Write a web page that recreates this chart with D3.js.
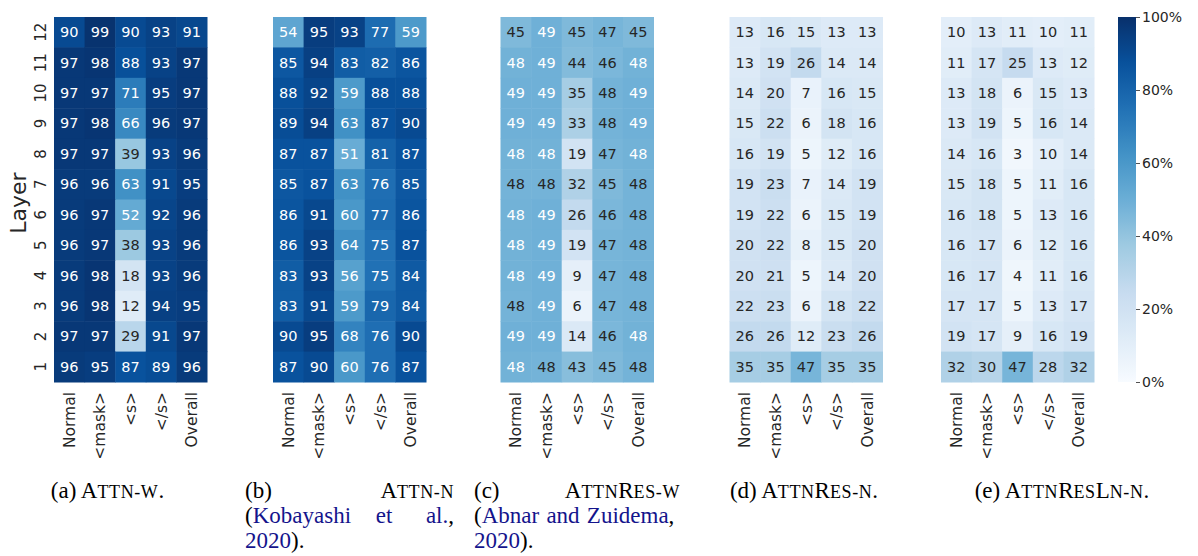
<!DOCTYPE html>
<html>
<head>
<meta charset="utf-8">
<script src="https://cdn.jsdelivr.net/npm/d3@7"></script>
<style>
  html, body { margin: 0; padding: 0; background: #fff; }
  svg { display: block; }
</style>
</head>
<body>
<svg id="chart" width="1198" height="556"></svg>
<script>
// ---------------- DATA ----------------
const categories = ["Normal", "<mask>", "<s>", "</s>", "Overall"];
const layers = [12, 11, 10, 9, 8, 7, 6, 5, 4, 3, 2, 1]; // top to bottom
const colorbarTicks = [0, 20, 40, 60, 80, 100];

const attnW = [
  [90, 99, 90, 93, 91],
  [97, 98, 88, 93, 97],
  [97, 97, 71, 95, 97],
  [97, 98, 66, 96, 97],
  [97, 97, 39, 93, 96],
  [96, 96, 63, 91, 95],
  [96, 97, 52, 92, 96],
  [96, 97, 38, 93, 96],
  [96, 98, 18, 93, 96],
  [96, 98, 12, 94, 95],
  [97, 97, 29, 91, 97],
  [96, 95, 87, 89, 96]
];
const attnN = [
  [54, 95, 93, 77, 59],
  [85, 94, 83, 82, 86],
  [88, 92, 59, 88, 88],
  [89, 94, 63, 87, 90],
  [87, 87, 51, 81, 87],
  [85, 87, 63, 76, 85],
  [86, 91, 60, 77, 86],
  [86, 93, 64, 75, 87],
  [83, 93, 56, 75, 84],
  [83, 91, 59, 79, 84],
  [90, 95, 68, 76, 90],
  [87, 90, 60, 76, 87]
];
const attnResW = [
  [45, 49, 45, 47, 45],
  [48.3, 49, 44, 46, 48.3],
  [49, 49, 35, 47.7, 49],
  [49, 49, 33, 47.7, 49],
  [48.3, 48.3, 19, 47, 48.3],
  [47.7, 47.7, 32, 45, 47.7],
  [48.3, 49, 26, 46, 47.7],
  [48.3, 49, 19, 47, 47.7],
  [48.3, 49, 9, 47, 47.7],
  [47.7, 49, 6, 47, 47.7],
  [49, 49, 14, 46, 48.3],
  [48.3, 47.7, 43, 45, 47.7]
];
const attnResN = [
  [13, 16, 15, 13, 13],
  [13, 19, 26, 14, 14],
  [14, 20, 7, 16, 15],
  [15, 22, 6, 18, 16],
  [16, 19, 5, 12, 16],
  [19, 23, 7, 14, 19],
  [19, 22, 6, 15, 19],
  [20, 22, 8, 15, 20],
  [20, 21, 5, 14, 20],
  [22, 23, 6, 18, 22],
  [26, 26, 12, 23, 26],
  [35, 35, 47, 35, 35]
];
const attnResLnN = [
  [10, 13, 11, 10, 11],
  [11, 17, 25, 13, 12],
  [13, 18, 6, 15, 13],
  [13, 19, 5, 16, 14],
  [14, 16, 3, 10, 14],
  [15, 18, 5, 11, 16],
  [16, 18, 5, 13, 16],
  [16, 17, 6, 12, 16],
  [16, 17, 4, 11, 16],
  [17, 17, 5, 13, 17],
  [19, 17, 9, 16, 19],
  [32, 30, 47, 28, 32]
];
const panels = [attnW, attnN, attnResW, attnResN, attnResLnN];

// ---------------- LAYOUT ----------------
const svg = d3.select("#chart");
const topY = 17, bottomY = 382, hmW = 153;
const lefts = [54, 273, 500.5, 729.5, 941];
const textDark = "#262626";
const sansFont = "'DejaVu Sans', sans-serif";
const serifFont = "'Liberation Serif', 'Times New Roman', serif";

// matplotlib "Blues" (linear through ColorBrewer 9 stops)
const bluesStops = ["#f7fbff", "#deebf7", "#c6dbef", "#9ecae1", "#6baed6", "#4292c6", "#2171b5", "#08519c", "#08306b"];
const color = d3.scaleLinear()
  .domain(d3.range(9).map(i => i * 100 / 8))
  .range(bluesStops)
  .interpolate(d3.interpolateRgb)
  .clamp(true);

const y = d3.scaleBand().domain(layers).range([topY, bottomY]).padding(0);

panels.forEach((data, p) => {
  const x = d3.scaleBand().domain(categories).range([lefts[p], lefts[p] + hmW]).padding(0);
  const g = svg.append("g");
  const cells = [];
  data.forEach((row, ri) => row.forEach((v, ci) => cells.push({layer: layers[ri], cat: categories[ci], v})));

  g.selectAll("rect").data(cells).join("rect")
    .attr("x", d => x(d.cat))
    .attr("y", d => y(d.layer))
    .attr("width", x.bandwidth() + 0.5)
    .attr("height", y.bandwidth() + 0.5)
    .attr("fill", d => color(d.v));

  g.selectAll("text.val").data(cells).join("text")
    .attr("class", "val")
    .attr("x", d => x(d.cat) + x.bandwidth() / 2)
    .attr("y", d => y(d.layer) + y.bandwidth() / 2)
    .attr("text-anchor", "middle")
    .attr("dominant-baseline", "central")
    .attr("font-family", sansFont)
    .attr("font-size", 14.5)
    .attr("fill", d => d.v >= 48 ? "#ffffff" : textDark)
    .text(d => Math.round(d.v));

  // x tick labels (rotated)
  g.selectAll("text.xt").data(categories).join("text")
    .attr("class", "xt")
    .attr("transform", d => `translate(${x(d) + x.bandwidth() / 2 + 5.5},${bottomY + 10}) rotate(-90)`)
    .attr("text-anchor", "end")
    .attr("font-family", sansFont)
    .attr("font-size", 15.5)
    .attr("fill", textDark)
    .text(d => d);
});

// y tick labels for first panel
svg.append("g").selectAll("text").data(layers).join("text")
  .attr("transform", d => `translate(46,${y(d) + y.bandwidth() / 2}) rotate(-90)`)
  .attr("text-anchor", "middle")
  .attr("font-family", sansFont)
  .attr("font-size", 15)
  .attr("fill", textDark)
  .text(d => d);

svg.append("text")
  .attr("transform", `translate(26,203) rotate(-90)`)
  .attr("text-anchor", "middle")
  .attr("font-family", sansFont)
  .attr("font-size", 22)
  .attr("fill", textDark)
  .text("Layer");

// ---------------- COLORBAR ----------------
const cbX = 1118, cbW = 18;
const cbScale = d3.scaleLinear().domain([0, 100]).range([bottomY, topY]);
const defs = svg.append("defs");
const grad = defs.append("linearGradient").attr("id", "cbgrad")
  .attr("x1", 0).attr("y1", 1).attr("x2", 0).attr("y2", 0);
grad.selectAll("stop").data(d3.range(0, 101, 2)).join("stop")
  .attr("offset", d => d + "%")
  .attr("stop-color", d => color(d));
svg.append("rect")
  .attr("x", cbX).attr("y", topY)
  .attr("width", cbW).attr("height", bottomY - topY)
  .attr("fill", "url(#cbgrad)");

const cbAxis = d3.axisRight(cbScale).tickValues(colorbarTicks).tickFormat(d => d + "%").tickSize(4).tickPadding(2);
const cbG = svg.append("g").attr("transform", `translate(${cbX + cbW},0)`).call(cbAxis);
cbG.select(".domain").remove();
cbG.selectAll("line").attr("stroke", textDark).attr("stroke-width", 0.8);
cbG.selectAll("text").attr("font-family", sansFont).attr("font-size", 14).attr("fill", textDark);

// ---------------- CAPTIONS ----------------
const navy = "#14148c";
const capSize = 23, smallSize = 18;
const line1 = 498, line2 = 523, line3 = 548;

function smallCaps(sel, parts) {
  parts.forEach(([t, small, col]) => {
    const ts = sel.append("tspan")
      .attr("font-size", small ? smallSize : capSize)
      .attr("fill", col || "#000")
      .text(t);
    if (small) ts.attr("letter-spacing", 0.6);
  });
}
function cap(xp, yp, anchor, parts) {
  const t = svg.append("text")
    .attr("x", xp).attr("y", yp)
    .attr("text-anchor", anchor)
    .attr("font-family", serifFont)
    .attr("font-size", capSize)
    .attr("fill", "#000");
  smallCaps(t, parts);
  return t;
}

// (a)
cap(107.5, line1, "middle", [["(a) A", false], ["TTN-W", true], [".", false]]);

// (b)
cap(245, line1, "start", [["(b)", false]]);
cap(454, line1, "end", [["A", false], ["TTN-N", true]]);
cap(245, line2, "start", [["(", false], ["Kobayashi", false, navy]]);
cap(384, line2, "middle", [["et", false, navy]]);
cap(454, line2, "end", [["al.", false, navy], [",", false]]);
cap(245, line3, "start", [["2020", false, navy], [").", false]]);

// (c)
cap(474, line1, "start", [["(c)", false]]);
cap(680, line1, "end", [["A", false], ["TTN", true], ["R", false], ["ES-W", true]]);
cap(474, line2, "start", [["(", false], ["Abnar and Zuidema", false, navy], [",", false]])
  .attr("word-spacing", 1.5);
cap(474, line3, "start", [["2020", false, navy], [").", false]]);

// (d)
cap(804, line1, "middle", [["(d) A", false], ["TTN", true], ["R", false], ["ES-N", true], [".", false]]);

// (e)
cap(1062, line1, "middle", [["(e) A", false], ["TTN", true], ["R", false], ["ES", true], ["L", false], ["N-N", true], [".", false]]);
</script>
</body>
</html>
